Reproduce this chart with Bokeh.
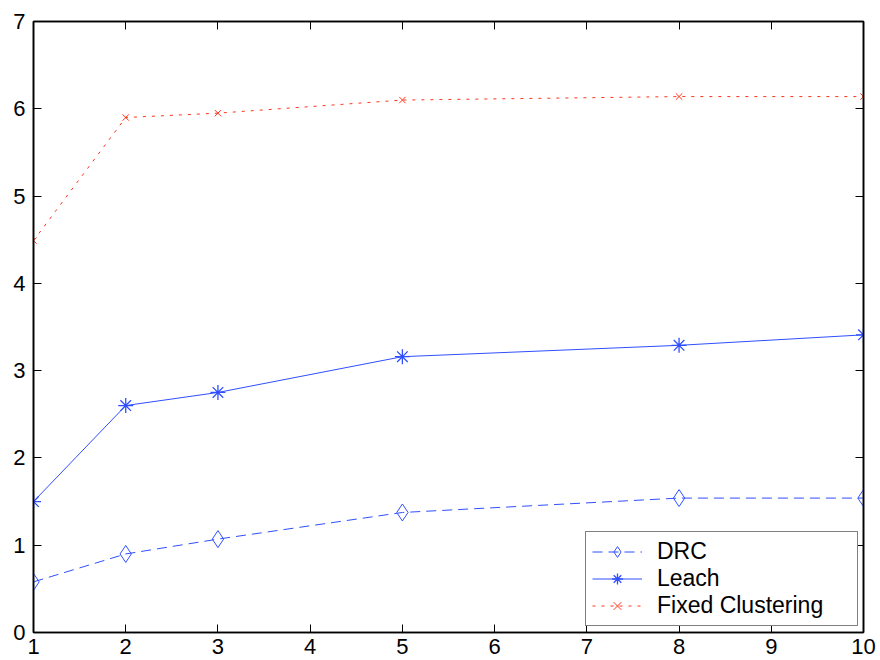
from bokeh.plotting import figure
from bokeh.models import LinearAxis, FixedTicker, Legend, LegendItem, Range1d
from bokeh.embed import file_html
from bokeh.resources import INLINE

# Number of rounds sampled along the x axis
x_vals = [1, 2, 3, 5, 8, 10]

# Series values per protocol
drc = [0.58, 0.90, 1.07, 1.375, 1.54, 1.54]
leach = [1.50, 2.60, 2.75, 3.16, 3.29, 3.41]
fixed_clustering = [4.49, 5.90, 5.95, 6.10, 6.14, 6.14]

x_ticks = [1, 2, 3, 4, 5, 6, 7, 8, 9, 10]
y_ticks = [0, 1, 2, 3, 4, 5, 6, 7]

FONT = "Liberation Sans"
BLUE = "#2f4fff"
RED = "#ff3418"

p = figure(
    width=880, height=660,
    x_range=Range1d(1, 10), y_range=Range1d(0, 7),
    output_backend="svg", toolbar_location=None,
    x_axis_location=None, y_axis_location=None,
    min_border_left=33, min_border_right=17,
    min_border_top=21, min_border_bottom=28,
)
p.xgrid.visible = False
p.ygrid.visible = False
p.outline_line_color = "black"
p.outline_line_width = 1.5
p.background_fill_color = "white"
p.border_fill_color = "white"


def style_axis(ax, labels=True):
    ax.axis_line_color = "black"
    ax.axis_line_width = 1.6
    ax.major_tick_in = 8
    ax.major_tick_out = 0
    ax.major_tick_line_color = "black"
    ax.major_tick_line_width = 1
    ax.minor_tick_line_color = None
    if labels:
        ax.major_label_text_font = FONT
        ax.major_label_text_font_size = "22px"
        ax.major_label_text_color = "black"
        ax.major_label_standoff = 6
    else:
        # tick marks only on the top and right edges of the box
        ax.major_label_text_font_size = "1px"
        ax.major_label_text_color = None
        ax.major_label_standoff = 0


bottom = LinearAxis(ticker=FixedTicker(ticks=x_ticks))
left = LinearAxis(ticker=FixedTicker(ticks=y_ticks))
top = LinearAxis(ticker=FixedTicker(ticks=x_ticks))
right = LinearAxis(ticker=FixedTicker(ticks=y_ticks))
style_axis(bottom)
style_axis(left)
style_axis(top, labels=False)
style_axis(right, labels=False)
left.major_label_standoff = 8
p.add_layout(bottom, "below")
p.add_layout(left, "left")
p.add_layout(top, "above")
p.add_layout(right, "right")

# DRC: dashed line with open diamonds
drc_line = p.line(x_vals, drc, line_color=BLUE, line_width=1, line_dash="10 6")
drc_mk = p.scatter(x_vals, drc, marker="diamond", size=17, fill_color=None,
                   line_color=BLUE, line_width=1)

# Leach: solid line with asterisks
leach_line = p.line(x_vals, leach, line_color=BLUE, line_width=1)
leach_mk = p.scatter(x_vals, leach, marker="asterisk", size=15,
                     line_color=BLUE, line_width=1.3)

# Fixed Clustering: dotted line with crosses
fixed_line = p.line(x_vals, fixed_clustering, line_color=RED, line_width=1,
                    line_dash="3 6")
fixed_mk = p.scatter(x_vals, fixed_clustering, marker="x", size=9,
                     line_color=RED, line_width=1)

legend = Legend(
    items=[
        LegendItem(label="DRC", renderers=[drc_line, drc_mk]),
        LegendItem(label="Leach", renderers=[leach_line, leach_mk]),
        LegendItem(label="Fixed Clustering", renderers=[fixed_line, fixed_mk]),
    ],
    location=(552, 6),
    orientation="vertical",
    label_text_font=FONT,
    label_text_font_size="23px",
    label_text_color="black",
    label_standoff=15,
    label_height=27,
    label_width=194,
    glyph_height=27,
    glyph_width=50,
    spacing=0,
    padding=6,
    margin=0,
    border_line_color="black",
    border_line_width=1,
    background_fill_color="white",
    background_fill_alpha=1,
)
p.add_layout(legend, "center")

open("out.html", "w").write(file_html(p, INLINE))
